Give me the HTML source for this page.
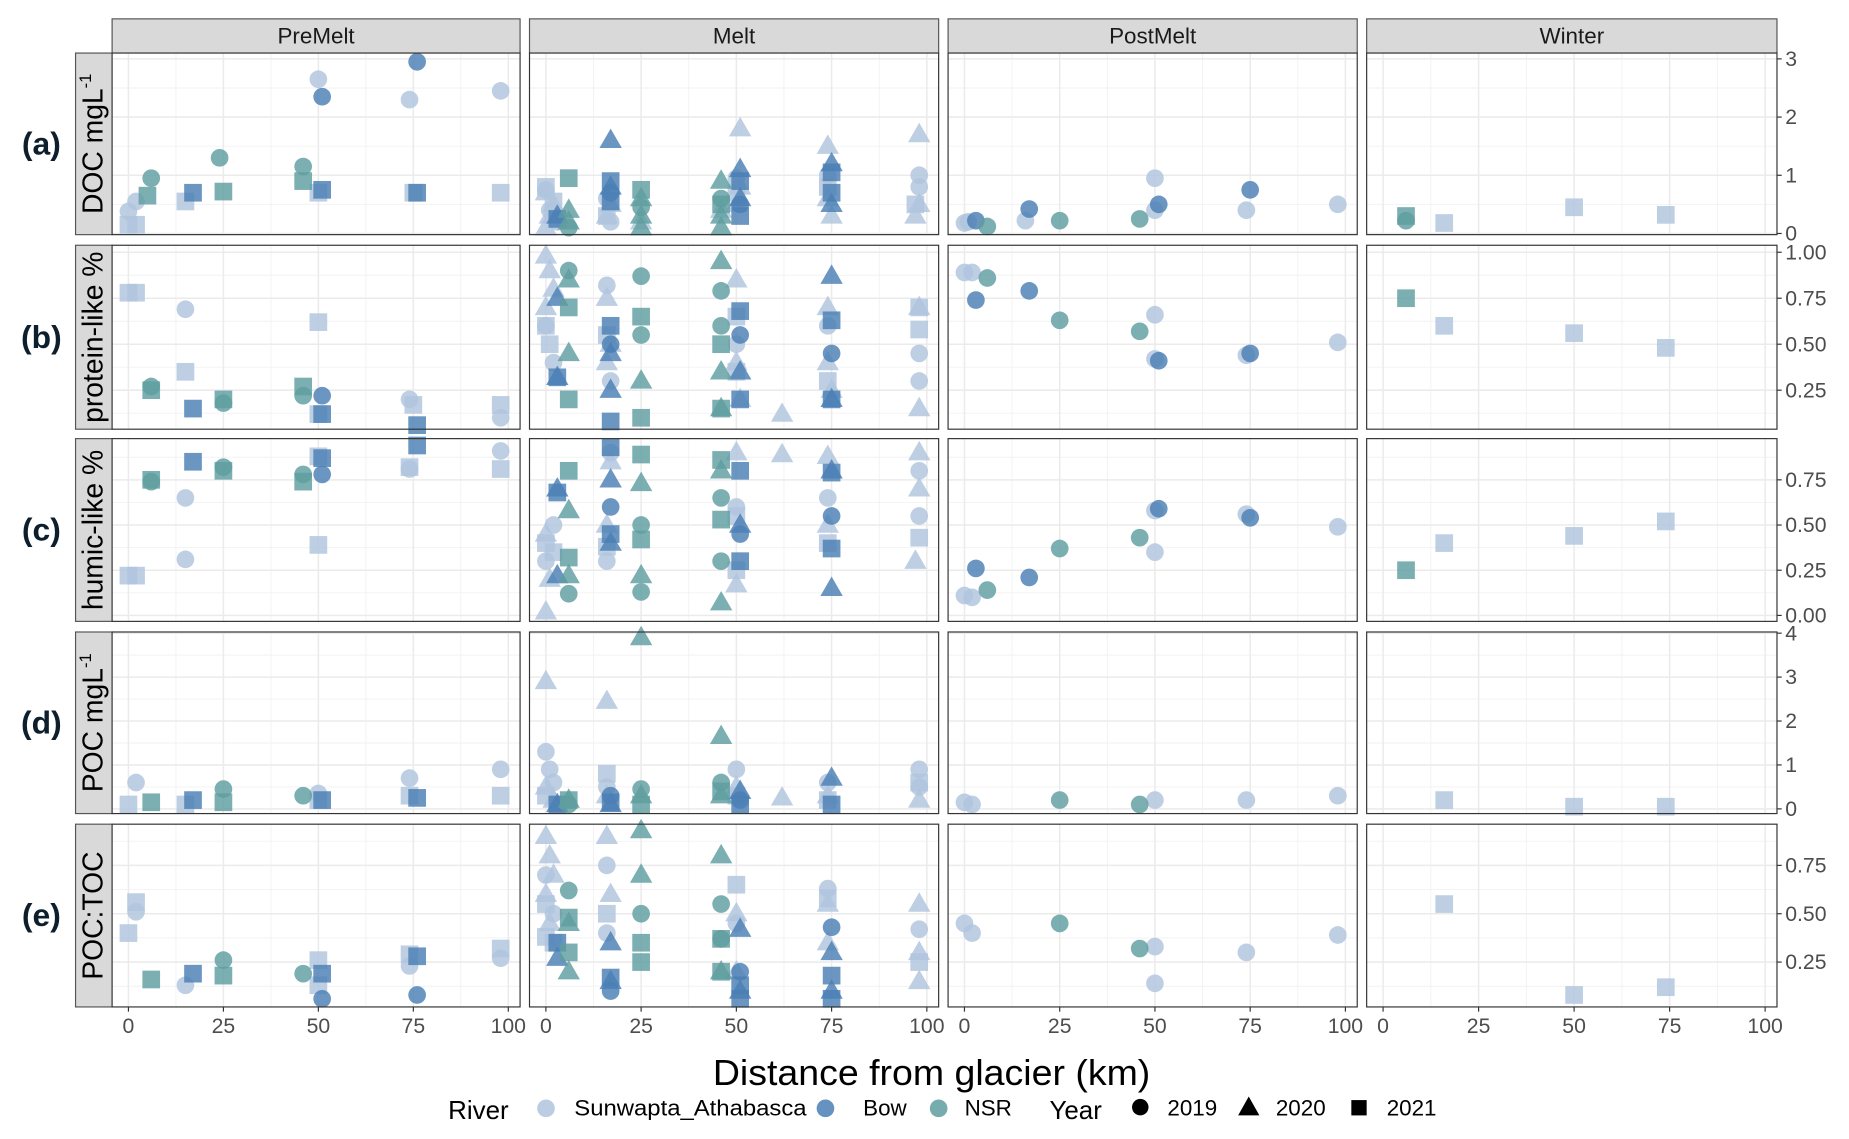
<!DOCTYPE html>
<html><head><meta charset="utf-8"><style>
html,body{margin:0;padding:0;background:#fff;}
svg{display:block;font-family:"Liberation Sans",Arial,sans-serif;}
</style></head><body>
<svg id="chart" width="1849" height="1139" viewBox="0 0 1568 966" xmlns="http://www.w3.org/2000/svg">
<g id="panels"></g>
<text x="790" y="920" font-size="31" text-anchor="middle" fill="#000" textLength="371" lengthAdjust="spacingAndGlyphs">Distance from glacier (km)</text>
<g font-size="19" fill="#000">
<text x="380" y="949" font-size="22">River</text>
<circle cx="463" cy="940" r="7.5" fill="#b0c4de" opacity="0.85"/>
<text x="487" y="946" textLength="197" lengthAdjust="spacingAndGlyphs">Sunwapta_Athabasca</text>
<circle cx="700" cy="940" r="7.5" fill="#4a7fb5" opacity="0.85"/>
<text x="732" y="946">Bow</text>
<circle cx="796" cy="940" r="7.5" fill="#5f9ea0" opacity="0.85"/>
<text x="818" y="946">NSR</text>
<text x="890" y="949" font-size="22">Year</text>
<circle cx="967" cy="939" r="7" fill="#000"/>
<text x="990" y="946">2019</text>
<polygon points="1059,930 1068,946 1050,946" fill="#000"/>
<text x="1082" y="946">2020</text>
<rect x="1146" y="933" width="13" height="13" fill="#000"/>
<text x="1176" y="946">2021</text>
</g>
</svg>
<script>
const seasons = ["PreMelt","Melt","PostMelt","Winter"];
const rowLabels = ["(a)","(b)","(c)","(d)","(e)"];
const rowTitles = ["DOC mgL","protein-like %","humic-like %","POC mgL","POC:TOC"];
const xTicks = [0,25,50,75,100];
const yTicksA = [0,1,2,3];
const yTickLabelsA = ["0","1","2","3"];
const yTicksB = [0.25,0.5,0.75,1.0];
const yTickLabelsB = ["0.25","0.50","0.75","1.00"];
const yTicksC = [0,0.25,0.5,0.75];
const yTickLabelsC = ["0.00","0.25","0.50","0.75"];
const yTicksD = [0,1,2,3,4];
const yTickLabelsD = ["0","1","2","3","4"];
const yTicksE = [0.25,0.5,0.75];
const yTickLabelsE = ["0.25","0.50","0.75"];

// points: [distance, value, river(S/B/N), year(19/20/21)]
const docPre = [[0,0.38,"S",19],[2,0.55,"S",19],[50,2.65,"S",19],[74,2.3,"S",19],[98,2.45,"S",19],[51,2.35,"B",19],[76,2.95,"B",19],[6,0.95,"N",19],[24,1.3,"N",19],[46,1.15,"N",19],[0,0.15,"S",21],[2,0.15,"S",21],[15,0.55,"S",21],[50,0.7,"S",21],[75,0.7,"S",21],[98,0.7,"S",21],[17,0.7,"B",21],[51,0.75,"B",21],[76,0.7,"B",21],[5,0.65,"N",21],[25,0.72,"N",21],[46,0.9,"N",21]];
const docMelt = [[0,0.1,"S",20],[1,0.3,"S",20],[2,0.5,"S",20],[0,0.7,"S",20],[16,0.3,"S",20],[17,0.5,"S",20],[25,0.2,"S",20],[46,0.4,"S",20],[50,0.5,"S",20],[51,1.8,"S",20],[51,0.8,"S",20],[74,1.5,"S",20],[74,0.6,"S",20],[75,0.3,"S",20],[98,1.7,"S",20],[98,0.5,"S",20],[97,0.3,"S",20],[0,0.75,"S",19],[1,0.4,"S",19],[3,0.2,"S",19],[16,0.6,"S",19],[17,0.2,"S",19],[50,0.95,"S",19],[74,1.0,"S",19],[98,1.0,"S",19],[98,0.8,"S",19],[0,0.8,"S",21],[2,0.55,"S",21],[16,0.3,"S",21],[50,0.7,"S",21],[74,0.8,"S",21],[97,0.5,"S",21],[17,1.6,"B",20],[17,0.8,"B",20],[51,1.1,"B",20],[51,0.6,"B",20],[75,1.2,"B",20],[75,0.5,"B",20],[3,0.3,"B",20],[3,0.25,"B",21],[17,0.9,"B",21],[17,0.55,"B",21],[51,0.9,"B",21],[51,0.3,"B",21],[75,0.7,"B",21],[75,1.05,"B",21],[17,0.7,"B",19],[51,0.5,"B",19],[6,0.4,"N",20],[6,0.2,"N",20],[25,0.3,"N",20],[25,0.6,"N",20],[46,0.9,"N",20],[46,0.3,"N",20],[46,0.1,"N",20],[25,0.1,"N",20],[25,0.45,"N",19],[46,0.6,"N",19],[6,0.1,"N",19],[6,0.95,"N",21],[25,0.75,"N",21],[46,0.5,"N",21]];
const docPost = [[0,0.18,"S",19],[1,0.2,"S",19],[16,0.22,"S",19],[50,0.95,"S",19],[50,0.4,"S",19],[74,0.4,"S",19],[98,0.5,"S",19],[3,0.22,"B",19],[17,0.42,"B",19],[51,0.5,"B",19],[75,0.75,"B",19],[6,0.12,"N",19],[25,0.22,"N",19],[46,0.25,"N",19]];
const docWin = [[6,0.3,"N",21],[6,0.22,"N",19],[16,0.18,"S",21],[50,0.45,"S",21],[74,0.32,"S",21]];

const protPre = [[0,0.78,"S",21],[2,0.78,"S",21],[15,0.35,"S",21],[50,0.62,"S",21],[50,0.12,"S",21],[75,0.17,"S",21],[98,0.17,"S",21],[15,0.69,"S",19],[74,0.2,"S",19],[98,0.1,"S",19],[6,0.27,"N",19],[25,0.18,"N",19],[46,0.22,"N",19],[6,0.25,"N",21],[25,0.2,"N",21],[46,0.27,"N",21],[17,0.15,"B",21],[51,0.12,"B",21],[76,0.06,"B",21],[51,0.22,"B",19]];
const protMelt = [[0,0.98,"S",20],[1,0.9,"S",20],[2,0.8,"S",20],[0,0.7,"S",20],[16,0.75,"S",20],[17,0.5,"S",20],[50,0.85,"S",20],[50,0.4,"S",20],[51,0.2,"S",20],[62,0.12,"S",20],[74,0.7,"S",20],[74,0.4,"S",20],[75,0.25,"S",20],[98,0.7,"S",20],[98,0.15,"S",20],[16,0.4,"S",20],[0,0.6,"S",19],[2,0.4,"S",19],[16,0.82,"S",19],[17,0.3,"S",19],[50,0.5,"S",19],[74,0.6,"S",19],[98,0.45,"S",19],[98,0.3,"S",19],[0,0.6,"S",21],[1,0.5,"S",21],[16,0.55,"S",21],[50,0.65,"S",21],[50,0.35,"S",21],[74,0.3,"S",21],[98,0.7,"S",21],[98,0.58,"S",21],[3,0.32,"B",20],[17,0.45,"B",20],[17,0.25,"B",20],[51,0.35,"B",20],[75,0.87,"B",20],[75,0.2,"B",20],[3,0.75,"B",20],[3,0.32,"B",21],[17,0.6,"B",21],[17,0.08,"B",21],[51,0.68,"B",21],[51,0.2,"B",21],[75,0.63,"B",21],[75,0.2,"B",21],[17,0.5,"B",19],[51,0.55,"B",19],[75,0.45,"B",19],[6,0.85,"N",20],[6,0.45,"N",20],[25,0.3,"N",20],[46,0.95,"N",20],[46,0.35,"N",20],[46,0.15,"N",20],[6,0.9,"N",19],[25,0.87,"N",19],[25,0.55,"N",19],[46,0.79,"N",19],[46,0.6,"N",19],[6,0.7,"N",21],[6,0.2,"N",21],[25,0.65,"N",21],[25,0.1,"N",21],[46,0.5,"N",21],[46,0.15,"N",21]];
const protPost = [[0,0.89,"S",19],[2,0.89,"S",19],[50,0.66,"S",19],[50,0.42,"S",19],[74,0.44,"S",19],[98,0.51,"S",19],[3,0.74,"B",19],[17,0.79,"B",19],[51,0.41,"B",19],[75,0.45,"B",19],[6,0.86,"N",19],[25,0.63,"N",19],[46,0.57,"N",19]];
const protWin = [[6,0.75,"N",21],[16,0.6,"S",21],[50,0.56,"S",21],[74,0.48,"S",21]];

const humPre = [[0,0.22,"S",21],[2,0.22,"S",21],[50,0.39,"S",21],[50,0.88,"S",21],[74,0.82,"S",21],[98,0.81,"S",21],[15,0.65,"S",19],[15,0.31,"S",19],[74,0.81,"S",19],[98,0.91,"S",19],[6,0.74,"N",19],[25,0.82,"N",19],[46,0.78,"N",19],[6,0.75,"N",21],[25,0.8,"N",21],[46,0.74,"N",21],[17,0.85,"B",21],[51,0.87,"B",21],[76,0.94,"B",21],[51,0.78,"B",19]];
const humMelt = [[0,0.02,"S",20],[1,0.2,"S",20],[0,0.45,"S",20],[16,0.5,"S",20],[17,0.85,"S",20],[50,0.9,"S",20],[50,0.17,"S",20],[62,0.89,"S",20],[74,0.88,"S",20],[74,0.5,"S",20],[98,0.9,"S",20],[98,0.7,"S",20],[97,0.3,"S",20],[0,0.3,"S",19],[2,0.5,"S",19],[16,0.3,"S",19],[17,0.9,"S",19],[50,0.6,"S",19],[74,0.65,"S",19],[98,0.55,"S",19],[98,0.8,"S",19],[0,0.4,"S",21],[2,0.35,"S",21],[16,0.38,"S",21],[50,0.55,"S",21],[50,0.25,"S",21],[74,0.4,"S",21],[98,0.43,"S",21],[3,0.7,"B",20],[3,0.22,"B",20],[17,0.75,"B",20],[51,0.5,"B",20],[75,0.8,"B",20],[75,0.15,"B",20],[17,0.4,"B",20],[3,0.68,"B",21],[17,0.93,"B",21],[17,0.45,"B",21],[51,0.8,"B",21],[51,0.3,"B",21],[75,0.79,"B",21],[75,0.37,"B",21],[17,0.6,"B",19],[51,0.45,"B",19],[75,0.55,"B",19],[6,0.58,"N",20],[6,0.22,"N",20],[25,0.73,"N",20],[25,0.22,"N",20],[46,0.07,"N",20],[46,0.8,"N",20],[6,0.12,"N",19],[25,0.5,"N",19],[25,0.13,"N",19],[46,0.3,"N",19],[46,0.65,"N",19],[6,0.8,"N",21],[6,0.32,"N",21],[25,0.89,"N",21],[25,0.42,"N",21],[46,0.86,"N",21],[46,0.53,"N",21]];
const humPost = [[0,0.11,"S",19],[2,0.1,"S",19],[50,0.58,"S",19],[50,0.35,"S",19],[74,0.56,"S",19],[98,0.49,"S",19],[3,0.26,"B",19],[17,0.21,"B",19],[51,0.59,"B",19],[75,0.54,"B",19],[6,0.14,"N",19],[25,0.37,"N",19],[46,0.43,"N",19]];
const humWin = [[6,0.25,"N",21],[16,0.4,"S",21],[50,0.44,"S",21],[74,0.52,"S",21]];

const pocPre = [[2,0.6,"S",19],[50,0.35,"S",19],[74,0.7,"S",19],[98,0.9,"S",19],[0,0.1,"S",21],[15,0.1,"S",21],[50,0.2,"S",21],[74,0.3,"S",21],[98,0.3,"S",21],[25,0.45,"N",19],[46,0.3,"N",19],[6,0.15,"N",21],[25,0.15,"N",21],[17,0.2,"B",21],[51,0.2,"B",21],[76,0.25,"B",21]];
const pocMelt = [[0,2.9,"S",20],[16,2.45,"S",20],[62,0.25,"S",20],[0,0.5,"S",20],[16,0.3,"S",20],[50,0.5,"S",20],[74,0.3,"S",20],[98,0.2,"S",20],[2,0.2,"S",20],[0,1.3,"S",19],[1,0.9,"S",19],[2,0.6,"S",19],[16,0.5,"S",19],[50,0.9,"S",19],[74,0.6,"S",19],[98,0.9,"S",19],[98,0.5,"S",19],[0,0.3,"S",21],[16,0.8,"S",21],[50,0.3,"S",21],[74,0.2,"S",21],[98,0.6,"S",21],[17,0.1,"B",20],[51,0.4,"B",20],[75,0.7,"B",20],[3,0.1,"B",20],[3,0.1,"B",21],[17,0.15,"B",21],[51,0.1,"B",21],[75,0.1,"B",21],[17,0.3,"B",19],[51,0.2,"B",19],[25,3.9,"N",20],[46,1.65,"N",20],[6,0.2,"N",20],[25,0.3,"N",20],[46,0.3,"N",20],[25,0.45,"N",19],[46,0.6,"N",19],[6,0.1,"N",19],[6,0.2,"N",21],[25,0.1,"N",21],[46,0.4,"N",21]];
const pocPost = [[0,0.15,"S",19],[2,0.1,"S",19],[50,0.2,"S",19],[74,0.2,"S",19],[98,0.3,"S",19],[25,0.2,"N",19],[46,0.1,"N",19]];
const pocWin = [[16,0.2,"S",21],[50,0.05,"S",21],[74,0.05,"S",21]];

const ratioPre = [[0,0.4,"S",21],[2,0.56,"S",21],[50,0.26,"S",21],[50,0.13,"S",21],[74,0.29,"S",21],[98,0.32,"S",21],[2,0.51,"S",19],[15,0.13,"S",19],[74,0.23,"S",19],[98,0.27,"S",19],[25,0.26,"N",19],[46,0.19,"N",19],[6,0.16,"N",21],[25,0.18,"N",21],[17,0.19,"B",21],[51,0.19,"B",21],[76,0.28,"B",21],[51,0.06,"B",19],[76,0.08,"B",19]];
const ratioMelt = [[0,0.9,"S",20],[1,0.8,"S",20],[2,0.7,"S",20],[0,0.6,"S",20],[16,0.9,"S",20],[17,0.6,"S",20],[50,0.5,"S",20],[74,0.55,"S",20],[74,0.35,"S",20],[98,0.55,"S",20],[98,0.3,"S",20],[98,0.15,"S",20],[50,0.2,"S",20],[1,0.45,"S",20],[0,0.7,"S",19],[2,0.5,"S",19],[16,0.75,"S",19],[50,0.45,"S",19],[74,0.63,"S",19],[98,0.42,"S",19],[16,0.4,"S",19],[0,0.55,"S",21],[2,0.35,"S",21],[16,0.5,"S",21],[50,0.65,"S",21],[74,0.58,"S",21],[98,0.25,"S",21],[0,0.38,"S",21],[3,0.27,"B",20],[17,0.35,"B",20],[17,0.15,"B",20],[51,0.42,"B",20],[51,0.1,"B",20],[75,0.3,"B",20],[75,0.1,"B",20],[3,0.35,"B",21],[17,0.17,"B",21],[51,0.13,"B",21],[51,0.06,"B",21],[75,0.06,"B",21],[75,0.18,"B",21],[17,0.1,"B",19],[51,0.2,"B",19],[75,0.43,"B",19],[6,0.45,"N",20],[6,0.2,"N",20],[25,0.93,"N",20],[25,0.7,"N",20],[46,0.8,"N",20],[46,0.2,"N",20],[6,0.62,"N",19],[25,0.5,"N",19],[46,0.55,"N",19],[46,0.37,"N",19],[6,0.48,"N",21],[25,0.35,"N",21],[25,0.25,"N",21],[46,0.37,"N",21],[46,0.2,"N",21],[6,0.3,"N",21]];
const ratioPost = [[0,0.45,"S",19],[2,0.4,"S",19],[50,0.33,"S",19],[50,0.14,"S",19],[74,0.3,"S",19],[98,0.39,"S",19],[25,0.45,"N",19],[46,0.32,"N",19]];
const ratioWin = [[16,0.55,"S",21],[50,0.08,"S",21],[74,0.12,"S",21]];

const panelData = [
  [docPre,docMelt,docPost,docWin],
  [protPre,protMelt,protPost,protWin],
  [humPre,humMelt,humPost,humWin],
  [pocPre,pocMelt,pocPost,pocWin],
  [ratioPre,ratioMelt,ratioPost,ratioWin]
];
const rowTicks = [yTicksA,yTicksB,yTicksC,yTicksD,yTicksE];
const rowTickLabels = [yTickLabelsA,yTickLabelsB,yTickLabelsC,yTickLabelsD,yTickLabelsE];

// layout (not data)
const colBox = [[95,441],[449,796],[804,1151],[1159,1507]];
const rowBox = [[45,199],[208,364],[372,527],[536,690],[699,854]];
const rowDomain = [[-0.02,3.10],[0.038,1.038],[-0.033,0.978],[-0.107,4.027],[0.018,0.963]];
const xDomain = [-4.3,103.1];
const colors = {S:"#b0c4de",B:"#4a7fb5",N:"#5f9ea0"};
const riverNames = {S:"sunwapta",B:"bow",N:"nsr"};

const NS = "http://www.w3.org/2000/svg";
const root = document.getElementById("panels");
function mk(tag, attrs, parent){
  const e = document.createElementNS(NS, tag);
  for (const k in attrs) e.setAttribute(k, attrs[k]);
  (parent||root).appendChild(e);
  return e;
}
function xScale(c, v){ const [a,b]=colBox[c]; return a + (v - xDomain[0])/(xDomain[1]-xDomain[0])*(b-a); }
function yScale(r, v){ const [t,bt]=rowBox[r]; const [mn,mx]=rowDomain[r]; return bt - (v-mn)/(mx-mn)*(bt-t); }

seasons.forEach((s,c)=>{
  const [a,b]=colBox[c];
  const st = mk("rect",{x:a,y:16,width:b-a,height:29,fill:"#d9d9d9",stroke:"#555","stroke-width":1});
  
  
  const t = mk("text",{x:(a+b)/2,y:37,"font-size":19,"text-anchor":"middle",fill:"#1a1a1a"});
  t.textContent = s;
  
  
});

rowBox.forEach((rb,r)=>{
  const [t,bt]=rb;
  const rs = mk("rect",{x:64,y:t,width:31,height:bt-t,fill:"#d9d9d9",stroke:"#555","stroke-width":1});
  
  
  const cy=(t+bt)/2, cx=87;
  const tt = mk("text",{x:cx,y:cy,"font-size":24,"text-anchor":"middle",fill:"#000",transform:`rotate(-90 ${cx} ${cy})`});
  tt.textContent = rowTitles[r];
  if (r===0 || r===3){
    const sp = mk("tspan",{"font-size":14,dy:-10},tt); sp.textContent="-1";
  }
  
  
  const rl = mk("text",{x:35,y:cy+9,"font-size":27,"font-weight":"bold","text-anchor":"middle",fill:"#0d1f2d"});
  rl.textContent = rowLabels[r];
  
  

  const ticks = rowTicks[r];
  colBox.forEach((cb,c)=>{
    const [a,b]=cb;
    const g = mk("g",{});
    
    
    mk("rect",{x:a,y:t,width:b-a,height:bt-t,fill:"#fff"},g);
    for (let i=0;i<ticks.length+1;i++){
      const step = ticks[1]-ticks[0];
      const v = ticks[0]-step/2 + i*step;
      const y = yScale(r,v);
      if (y>t && y<bt) mk("line",{x1:a,x2:b,y1:y,y2:y,stroke:"#f2f2f2","stroke-width":0.8},g);
    }
    [12.5,37.5,62.5,87.5].forEach(v=>{const x=xScale(c,v);mk("line",{x1:x,x2:x,y1:t,y2:bt,stroke:"#f2f2f2","stroke-width":0.8},g);});
    ticks.forEach(v=>{const y=yScale(r,v);mk("line",{x1:a,x2:b,y1:y,y2:y,stroke:"#ebebeb","stroke-width":1.3},g);});
    xTicks.forEach(v=>{const x=xScale(c,v);mk("line",{x1:x,x2:x,y1:t,y2:bt,stroke:"#ebebeb","stroke-width":1.3},g);});
    panelData[r][c].forEach(p=>{
      const x=xScale(c,p[0]), y=yScale(r,p[1]), col=colors[p[2]];
      let m;
      if (p[3]===19) m = mk("circle",{cx:x,cy:y,r:7.5,fill:col,"fill-opacity":0.82},g);
      else if (p[3]===20) m = mk("polygon",{points:`${x},${y-10} ${x+9.5},${y+6.5} ${x-9.5},${y+6.5}`,fill:col,"fill-opacity":0.82},g);
      else m = mk("rect",{x:x-7.5,y:y-7.5,width:15,height:15,fill:col,"fill-opacity":0.82},g);
      
      
    });
    mk("rect",{x:a,y:t,width:b-a,height:bt-t,fill:"none",stroke:"#333","stroke-width":1},g);
  });
  ticks.forEach((v,i)=>{
    const y=yScale(r,v);
    mk("line",{x1:1507,x2:1511,y1:y,y2:y,stroke:"#333","stroke-width":1});
    const tl = mk("text",{x:1514,y:y+6,"font-size":18,fill:"#4d4d4d"});
    tl.textContent = rowTickLabels[r][i];
    
    
  });
});

colBox.forEach((cb,c)=>{
  xTicks.forEach(v=>{
    const x=xScale(c,v);
    mk("line",{x1:x,x2:x,y1:854,y2:858,stroke:"#333","stroke-width":1});
    const tl = mk("text",{x:x,y:876,"font-size":18,"text-anchor":"middle",fill:"#4d4d4d"});
    tl.textContent = String(v);
    
    
  });
});
</script>
</body></html>
